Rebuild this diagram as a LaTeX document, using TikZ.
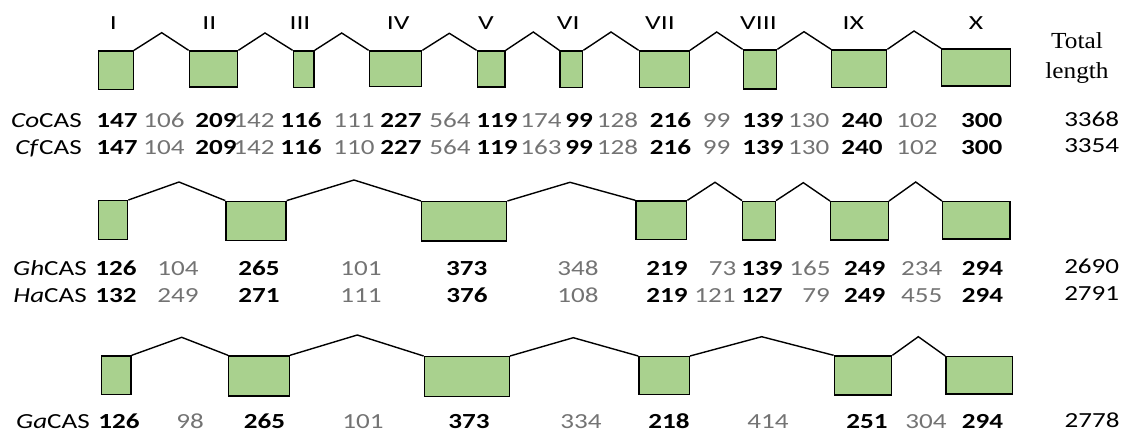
\documentclass[tikz,border=0pt]{standalone}
\usepackage{fontspec}
\setmainfont{Carlito}[FakeStretch=1.26]
\newfontfamily\romanfont{Carlito}[FakeStretch=1.38]
\newfontfamily\timesfont{Liberation Serif}[FakeStretch=1.1]
\definecolor{exongreen}{HTML}{A9D18E}
\definecolor{introngray}{HTML}{737373}

% exon box from its corners: name, x1, y1, x2, y2
\newcommand\exonbox[5]{%
  \pgfmathsetmacro\exw{#4-#2}\pgfmathsetmacro\exh{#5-#3}%
  \node[exon, minimum width=\exw pt, minimum height=\exh pt] (#1) at ({(#2+#4)/2},{(#3+#5)/2}) {};}

\begin{document}
\begin{tikzpicture}[x=1pt, y=-1pt,
  exon/.style={draw=black, fill=exongreen, line width=1.4pt, rectangle, inner sep=0pt},
  intron/.style={draw=black, line width=1.4pt, line join=miter},
  txt/.style={font=\fontsize{21.5}{26}\selectfont, inner sep=0pt},
  numlab/.style={txt, anchor=base},
  genelab/.style={txt, anchor=base east},
  roman/.style={font=\romanfont\fontsize{20}{24}\selectfont, inner sep=0pt, anchor=base},
  totlab/.style={font=\timesfont\fontsize{23}{27}\selectfont, inner sep=0pt, anchor=base}]
\useasboundingbox (0,0) rectangle (1130,436);

% ---- exon numbering ----
\foreach \r/\x [count=\i] in {I/113.3, II/209.3, III/300, IV/398.3, V/486,
    VI/568.3, VII/660, VIII/758.5, IX/853.3, X/976}
  \node[roman] (rn\i) at (\x,29.3) {\r};
\node[totlab] (tot1) at (1077,48.5) {Total};
\node[totlab] (tot2) at (1077,78.5) {length};

% ---- gene model 1 (CoCAS / CfCAS) ----
\exonbox{a1}{98.3}{51}{133.3}{89.3}
\exonbox{a2}{189.3}{51}{237.7}{87}
\exonbox{a3}{293.3}{51}{314}{87.7}
\exonbox{a4}{369.3}{51}{421.7}{86.7}
\exonbox{a5}{477.3}{51}{505}{87}
\exonbox{a6}{560}{51}{582.7}{87.7}
\exonbox{a7}{639.3}{51}{689.3}{87.7}
\exonbox{a8}{743.3}{50}{776.7}{89}
\exonbox{a9}{831.7}{50}{886.7}{87.3}
\exonbox{a10}{941.7}{49}{1010.7}{86}
\foreach \i/\j/\x/\y in {1/2/161.7/32.7, 2/3/265/33, 3/4/341.7/33, 4/5/449.3/33.3,
    5/6/533.3/32, 6/7/611/32, 7/8/716.7/32, 8/9/804/31.7, 9/10/914/31}{
  \coordinate (pa\i) at (\x,\y);
  \draw[intron] (a\i.north east) -- (pa\i) -- (a\j.north west);
}

% ---- gene model 2 (GhCAS / HaCAS) ----
\exonbox{b1}{98.3}{200.7}{127.7}{239.3}
\exonbox{b2}{226}{201.3}{286}{240.7}
\exonbox{b3}{421.7}{201.7}{506.7}{241}
\exonbox{b4}{636}{201}{686.7}{239.3}
\exonbox{b5}{742.7}{201.3}{775.3}{240}
\exonbox{b6}{830.7}{201.7}{888.3}{240}
\exonbox{b7}{942.7}{201.7}{1010}{239}
\foreach \i/\j/\x/\y in {1/2/179/182, 2/3/354/180, 3/4/570/182.3, 4/5/715/182.3,
    5/6/803.3/182.7, 6/7/915.7/182}{
  \coordinate (pb\i) at (\x,\y);
  \draw[intron] (b\i.north east) -- (pb\i) -- (b\j.north west);
}

% ---- gene model 3 (GaCAS) ----
\exonbox{c1}{101.7}{356}{131}{394.3}
\exonbox{c2}{228.7}{356}{289.3}{396}
\exonbox{c3}{424.3}{356.7}{509.3}{396.7}
\exonbox{c4}{639}{356.7}{689.3}{394.3}
\exonbox{c5}{834.3}{356}{891.7}{395}
\exonbox{c6}{946}{356.7}{1012.7}{394}
\foreach \i/\j/\x/\y in {1/2/181.7/337.3, 2/3/357.3/335, 3/4/573.3/337.7,
    4/5/761.7/336.7, 5/6/918.3/336.7}{
  \coordinate (pc\i) at (\x,\y);
  \draw[intron] (c\i.north east) -- (pc\i) -- (c\j.north west);
}

% ---- gene names ----
\node[genelab] (nCo) at (82,127.5) {\textit{Co}CAS};
\node[genelab] (nCf) at (82,154.5) {\textit{Cf}CAS};
\node[genelab] (nGh) at (87,275) {\textit{Gh}CAS};
\node[genelab] (nHa) at (87,302.5) {\textit{Ha}CAS};
\node[genelab] (nGa) at (90,428) {\textit{Ga}CAS};

% ---- exon (bold) and intron (gray) lengths, alternating ----
\newcommand\lenrow[3]{%
  \foreach \v/\x [count=\i] in {#3}
    \node[numlab] (#1\i) at (\x,#2) {\ifodd\i\bfseries\else\color{introngray}\fi\v};}

\lenrow{co}{127.5}{147/117, 106/164, 209/216, 142/254, 116/301, 111/354, 227/401,
  564/450, 119/497, 174/541, 99/579, 128/617.5, 216/670.5, 99/716.7, 139/763,
  130/808.7, 240/862, 102/917, 300/981.7}
\lenrow{cf}{154.5}{147/117, 104/164, 209/216, 142/254, 116/301, 110/354, 227/401,
  564/450, 119/497, 163/541, 99/579, 128/617.5, 216/670.5, 99/716.7, 139/763,
  130/808.7, 240/862, 102/917, 300/981.7}
\lenrow{gh}{275}{126/116, 104/178, 265/259, 101/361, 373/466.7, 348/578, 219/667,
  73/722.5, 139/762, 165/810, 249/864.7, 234/921.7, 294/982.5}
\lenrow{ha}{302.5}{132/116, 249/178, 271/259, 111/361, 376/467, 108/578, 219/667,
  121/715, 127/762, 79/816, 249/864.7, 455/921.7, 294/982.5}
\lenrow{ga}{428}{126/119, 98/190, 265/264.5, 101/363, 373/469, 334/581, 218/669,
  414/768, 251/867, 304/926, 294/982.5}

% ---- total lengths ----
\node[numlab] (tCo) at (1091.7,126) {3368};
\node[numlab] (tCf) at (1091.7,152) {3354};
\node[numlab] (tGh) at (1091.7,273) {2690};
\node[numlab] (tHa) at (1091.7,300) {2791};
\node[numlab] (tGa) at (1092,427) {2778};
\end{tikzpicture}
\end{document}
